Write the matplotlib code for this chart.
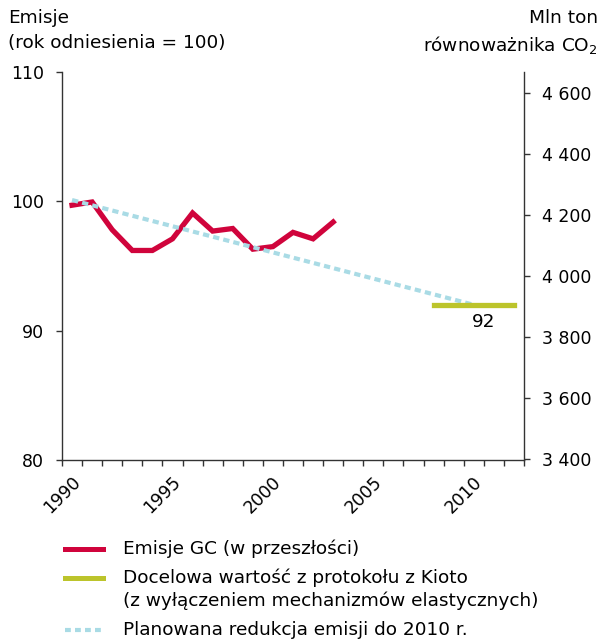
import matplotlib
matplotlib.use('Agg')
import matplotlib.pyplot as plt
from matplotlib.lines import Line2D
from matplotlib.ticker import FuncFormatter

plt.rcParams['font.family'] = ['DejaVu Sans']
plt.rcParams['font.size'] = 12
plt.rcParams['mathtext.default'] = 'regular'

# historic GHG emissions (base year = 100), plotted at mid-year
hist_years = [1990.5, 1991.5, 1992.5, 1993.5, 1994.5, 1995.5, 1996.5,
              1997.5, 1998.5, 1999.5, 2000.5, 2001.5, 2002.5, 2003.5]
hist_values = [99.7, 99.95, 97.8, 96.2, 96.2, 97.1, 99.1,
               97.7, 97.9, 96.3, 96.5, 97.6, 97.1, 98.4]

# planned reduction path
plan_years = [1990.5, 2010.5]
plan_values = [100.1, 92.0]

# Kyoto target
target_years = [2008.5, 2012.5]
target_values = [92.0, 92.0]
target_label = '92'

left_ticks = [80, 90, 100, 110]
right_ticks = [3400, 3600, 3800, 4000, 4200, 4400, 4600]
year_ticks = list(range(1990, 2014))
labelled_years = [1990, 1995, 2000, 2005, 2010]
scale = 42.45  # Mt CO2 eq per index point

red = '#d0043c'
green = '#bcc42b'
blue = '#a9dbe5'
axcol = '#333333'
txt = 13.3

fig = plt.figure(figsize=(6.03, 6.39), dpi=100)
ax = fig.add_axes([62/603, 1-460/639, (524-62)/603, (460-72)/639])
ax2 = ax.twinx()

ax.plot(hist_years, hist_values, color=red, lw=3.8, solid_joinstyle='miter', zorder=2)
ax.plot(plan_years, plan_values, color=blue, lw=3.0, dashes=(1.5, 1.0), zorder=3)
ax.plot(target_years, target_values, color=green, lw=3.8, solid_capstyle='projecting', zorder=4)
ax.annotate(target_label, xy=(2011, 92), xytext=(0, -6), textcoords='offset points',
            ha='center', va='top', fontsize=txt)

ax.set_xlim(1990, 2013)
ax.set_ylim(80, 110)
ax.set_yticks(left_ticks)
ax.set_xticks(year_ticks)
ax.set_xticklabels([str(y) if y in labelled_years else '' for y in year_ticks],
                   rotation=45, ha='center', va='top')

ax2.set_ylim(80*scale, 110*scale)
ax2.set_yticks(right_ticks)
ax2.yaxis.set_major_formatter(FuncFormatter(lambda v, p: '{:,}'.format(int(v)).replace(',', ' ')))

for a in (ax, ax2):
    for s in a.spines.values():
        s.set_color(axcol)
        s.set_linewidth(1.0)
    a.spines['top'].set_visible(False)
    a.tick_params(direction='out', length=4.2, width=1.0, color=axcol, labelsize=12.5, pad=8.5)
ax.spines['right'].set_visible(False)
ax2.spines['left'].set_visible(False)
ax2.spines['bottom'].set_visible(False)
ax.tick_params(axis='x', pad=5)

fig.text(8/603, 1-18/639, 'Emisje', ha='left', va='center', fontsize=txt)
fig.text(8/603, 1-43/639, '(rok odniesienia = 100)', ha='left', va='center', fontsize=txt)
fig.text(598/603, 1-18/639, 'Mln ton', ha='right', va='center', fontsize=txt)
fig.text(598/603, 1-45/639, 'równoważnika CO$_2$', ha='right', va='center', fontsize=txt)

# legend drawn by hand to keep the two-line entry aligned like the original
leg = [
    (549, red, None, ['Emisje GC (w przeszłości)']),
    (578, green, None, ['Docelowa wartość z protokołu z Kioto',
                        '(z wyłączeniem mechanizmów elastycznych)']),
    (630, blue, (1.4, 1.0), ['Planowana redukcja emisji do 2010 r.']),
]
for ypix, col, dash, lines in leg:
    y = 1 - ypix/639
    ln = Line2D([65/603, 103/603], [y, y], transform=fig.transFigure, color=col, lw=3.6)
    if dash:
        ln.set_dashes(dash)
        ln.set_linewidth(3.0)
    fig.add_artist(ln)
    for i, t in enumerate(lines):
        fig.text(123/603, 1-(ypix + 23*i)/639, t, ha='left', va='center', fontsize=txt)

fig.savefig('out.png', dpi=100)
